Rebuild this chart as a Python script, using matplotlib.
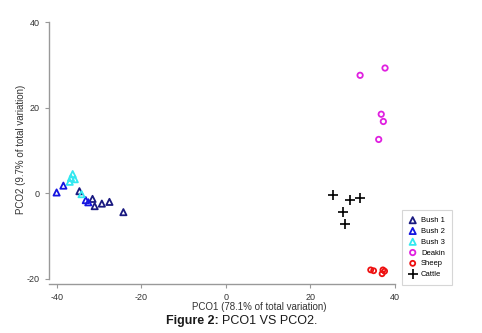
import matplotlib
matplotlib.use('Agg')
import matplotlib.pyplot as plt

plt.rcParams['font.family'] = ['Liberation Sans', 'DejaVu Sans']
plt.rcParams['axes.unicode_minus'] = False

# PCO scores
bush1_x = [-34.6, -31.5, -31.0, -29.3, -27.5, -24.2]
bush1_y = [0.5, -1.3, -3.0, -2.4, -2.0, -4.4]
bush2_x = [-40.0, -38.4, -33.1, -32.5]
bush2_y = [0.2, 1.8, -1.6, -2.1]
bush3_x = [-36.9, -36.2, -35.7, -36.6, -34.1]
bush3_y = [2.7, 4.5, 3.3, 3.6, -0.2]
deakin_x = [31.8, 37.7, 36.8, 37.3, 36.2]
deakin_y = [27.6, 29.3, 18.5, 16.8, 12.6]
sheep_x = [34.3, 35.0, 37.2, 37.0, 37.6]
sheep_y = [-17.9, -18.1, -17.9, -18.8, -18.2]
cattle_x = [25.3, 29.4, 31.8, 27.8, 28.3]
cattle_y = [-0.5, -1.6, -1.0, -4.4, -7.2]

fig = plt.figure(figsize=(4.82, 3.33), dpi=100)
ax = fig.add_axes([49 / 482, 1 - 284 / 333, 421 / 482, 269 / 333])

ms = 20
lw = 1.3
ax.scatter(bush1_x, bush1_y, marker='^', s=ms, facecolors='none', edgecolors='#1a1a80', linewidths=lw, label='Bush 1')
ax.scatter(bush2_x, bush2_y, marker='^', s=ms, facecolors='none', edgecolors='#1515e0', linewidths=lw, label='Bush 2')
ax.scatter(bush3_x, bush3_y, marker='^', s=ms, facecolors='none', edgecolors='#33e8f0', linewidths=lw, label='Bush 3')
ax.scatter(deakin_x, deakin_y, marker='o', s=15, facecolors='none', edgecolors='#e020e0', linewidths=lw, label='Deakin')
ax.scatter(sheep_x, sheep_y, marker='o', s=13, facecolors='none', edgecolors='#ee1010', linewidths=lw, label='Sheep')
ax.scatter(cattle_x, cattle_y, marker='+', s=45, color='black', linewidths=1.2, label='Cattle')

ax.set_xlim(-41.8, 57.8)
ax.set_ylim(-21.2, 41.7)
ax.set_xticks([-40, -20, 0, 20, 40])
ax.set_yticks([-20, 0, 20, 40])

for side in ['top', 'right']:
    ax.spines[side].set_visible(False)
ax.spines['left'].set_bounds(-20, 40)
ax.spines['bottom'].set_bounds(-41.8, 40)
for side in ['left', 'bottom']:
    ax.spines[side].set_color('#999999')
    ax.spines[side].set_linewidth(1.0)
ax.tick_params(colors='#999999', length=3, width=0.8, labelsize=6.5, labelcolor='#333333')

ax.set_xlabel('PCO1 (78.1% of total variation)', fontsize=7, color='#333333', labelpad=0)
ax.set_ylabel('PCO2 (9.7% of total variation)', fontsize=7, color='#333333', labelpad=1)

leg = ax.legend(loc='lower left', bbox_to_anchor=(402 / 482, 1 - 285 / 333), bbox_transform=fig.transFigure,
                fontsize=5.5, frameon=True, fancybox=False, borderpad=0.9, handletextpad=0.6,
                labelspacing=0.45, handlelength=1.0, borderaxespad=0)
leg.get_frame().set_edgecolor('#cccccc')
leg.get_frame().set_linewidth(0.8)

# caption: bold label + normal text
fig.text(219 / 482, 1 - 321 / 333, 'Figure 2:', ha='right', va='center', fontsize=9, fontweight='bold', color='#1a1a1a')
fig.text(222 / 482, 1 - 321 / 333, 'PCO1 VS PCO2.', ha='left', va='center', fontsize=9, color='#1a1a1a')

fig.savefig('out.png', dpi=100)
